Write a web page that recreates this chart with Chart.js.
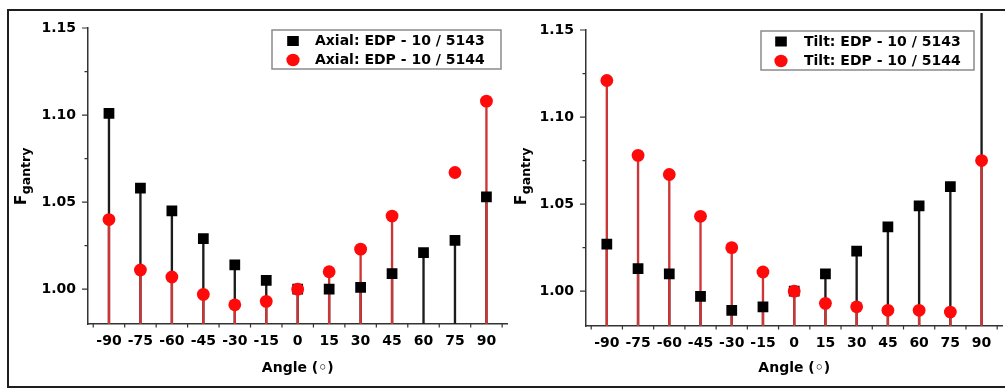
<!DOCTYPE html>
<html><head><meta charset="utf-8">
<script src="https://cdn.jsdelivr.net/npm/chart.js@4.4.0/dist/chart.umd.min.js"></script>
<style>
html,body{margin:0;padding:0;background:#fff;width:1005px;height:388px;overflow:hidden;position:relative;}
#frame{position:absolute;left:7px;top:9px;width:1010px;height:379px;box-sizing:border-box;border:2px solid #1e1e1e;}
#c1{position:absolute;left:0;top:0;}
#c2{position:absolute;left:500px;top:0;}
</style></head><body>
<div id="frame"></div>
<canvas id="c1" width="515" height="388"></canvas>
<canvas id="c2" width="510" height="388"></canvas>
<script>
// ---- data ----
const angles = [-90,-75,-60,-45,-30,-15,0,15,30,45,60,75,90];
const axial5143 = [1.101,1.058,1.045,1.029,1.014,1.005,1.000,1.000,1.001,1.009,1.021,1.028,1.053];
const axial5144 = [1.040,1.011,1.007,0.997,0.991,0.993,1.000,1.010,1.023,1.042,null,1.067,1.108];
const axial5144NoStem = [75];
const tilt5143 = [1.027,1.013,1.010,0.997,0.989,0.991,1.000,1.010,1.023,1.037,1.049,1.060,1.25];
const tilt5144 = [1.121,1.078,1.067,1.043,1.025,1.011,1.000,0.993,0.991,0.989,0.989,0.988,1.075];
const xTickValues = [-90,-75,-60,-45,-30,-15,0,15,30,45,60,75,90];
const yTickValues = [1.00,1.05,1.10,1.15];

const FONT = 'DejaVu Sans';

function pts(vals, skip){
  skip = skip || [];
  return angles.map((a,i)=>({x:a,y:vals[i]})).filter(p=>p.y!==null && skip.indexOf(p.x)<0);
}

const tickMarks = {
  id:'tickMarks',
  afterDraw(chart){
    const {ctx, scales:{x,y}, chartArea:a} = chart;
    ctx.save();
    ctx.strokeStyle='#333'; ctx.lineWidth=1.2;
    ctx.beginPath();
    yTickValues.forEach(v=>{const p=y.getPixelForValue(v); ctx.moveTo(a.left-6,p); ctx.lineTo(a.left,p);});
    const ys = yTickValues[1]-yTickValues[0];
    const ym = [yTickValues[0]-ys/2].concat(yTickValues.map(v=>v+ys/2));
    ym.forEach(v=>{ if(v>=y.min && v<=y.max){const p=y.getPixelForValue(v); ctx.moveTo(a.left-3.5,p); ctx.lineTo(a.left,p);} });
    const xs = xTickValues[1]-xTickValues[0];
    const xm = [xTickValues[0]-xs/2].concat(xTickValues.map(v=>v+xs/2));
    xm.forEach(v=>{ if(v>=x.min && v<=x.max){const p=x.getPixelForValue(v); ctx.moveTo(p,a.bottom); ctx.lineTo(p,a.bottom+3.5);} });
    ctx.stroke();
    ctx.restore();
  }
};

const boxLegend = {
  id:'boxLegend',
  afterDatasetsDraw(chart, args, o){
    const {ctx, chartArea:a} = chart;
    const bx=a.left+o.x, by=a.top+o.y;
    ctx.save();
    ctx.fillStyle='#fff'; ctx.fillRect(bx,by,o.w,o.h);
    ctx.strokeStyle='#8a8a8a'; ctx.lineWidth=1.5; ctx.strokeRect(bx,by,o.w,o.h);
    const items = chart.data.datasets.filter(d=>d.type!=='bar').slice().reverse();
    items.forEach((d,i)=>{
      const cy = by + o.rows[i];
      const cx = bx + o.markX;
      ctx.fillStyle = d.backgroundColor;
      if(d.pointStyle==='rect'){ ctx.fillRect(cx-5.8, cy-5, 11.6, 10); }
      else { ctx.beginPath(); ctx.ellipse(cx, cy, 6.6, 6.2, 0, 0, Math.PI*2); ctx.fill(); }
      ctx.fillStyle='#000'; ctx.font='bold 14px "'+FONT+'"'; ctx.textBaseline='middle'; ctx.textAlign='left';
      ctx.fillText(d.label, bx+o.textX, cy+0.5);
    });
    ctx.restore();
  }
};

const yTitle = {
  id:'yTitle',
  afterDraw(chart, args, o){
    const ctx = chart.ctx;
    ctx.save();
    ctx.translate(o.x, o.y);
    ctx.rotate(-Math.PI/2);
    ctx.fillStyle='#000'; ctx.textBaseline='alphabetic'; ctx.textAlign='left';
    ctx.font='bold 15px "'+FONT+'"';
    ctx.fillText('F',0,0);
    const w = ctx.measureText('F').width;
    ctx.font='bold 12.5px "'+FONT+'"';
    ctx.fillText('gantry', w+0.5, 4.5);
    ctx.restore();
  }
};

function makeChart(id, cfg){
  return new Chart(document.getElementById(id), {
    type:'scatter',
    data:{datasets:[
      {label:cfg.redLabel, data:pts(cfg.red), pointStyle:'circle', pointRadius:6.4, pointHoverRadius:6.4, backgroundColor:'#ff0a0a', borderWidth:0, order:0},
      {label:cfg.blackLabel, data:pts(cfg.black), pointStyle:'rect', pointRadius:7.6, pointHoverRadius:7.6, backgroundColor:'#000000', borderWidth:0, order:1},
      {type:'bar', label:cfg.redLabel+' stem', data:pts(cfg.red, cfg.redNoStem), backgroundColor:'#cc3636', barThickness:1.7, grouped:false, borderWidth:0, order:2},
      {type:'bar', label:cfg.blackLabel+' stem', data:pts(cfg.black), backgroundColor:'#1c1c1c', barThickness:1.7, grouped:false, borderWidth:0, order:3, clip:{left:0,top:17,right:0,bottom:0}}
    ]},
    options:{
      responsive:false, animation:false, events:[],
      layout:{padding:{left:0, top:cfg.top, right:cfg.right, bottom:0}},
      plugins:{legend:{display:false}, tooltip:{enabled:false},
        boxLegend:cfg.legend, yTitle:cfg.ytitle},
      scales:{
        x:{type:'linear', min:-100, max:100, offset:false,
          grid:{display:false, drawTicks:false, offset:false},
          border:{display:true, color:'#333', width:1.5},
          afterBuildTicks:s=>{ s.ticks = xTickValues.map(v=>({value:v})); },
          afterFit:s=>{ s.height = cfg.xh; },
          ticks:{color:'#000', font:{family:FONT, weight:'bold', size:14}, padding:9, maxRotation:0, autoSkip:false, callback:v=>String(v)},
          title:{display:true, text:'Angle (◦)', color:'#000', font:{family:FONT, weight:'bold', size:14}, padding:{top:0,bottom:11.5}}
        },
        y:{type:'linear', min:0.98, max:1.15,
          grid:{display:false, drawTicks:false},
          border:{display:true, color:'#333', width:1.5},
          afterBuildTicks:s=>{ s.ticks = yTickValues.map(v=>({value:v})); },
          afterFit:s=>{ s.width = cfg.yw; },
          ticks:{color:'#000', font:{family:FONT, weight:'bold', size:14}, padding:12, callback:v=>Number(v).toFixed(2)}
        }
      }
    },
    plugins:[tickMarks, boxLegend, yTitle]
  });
}

makeChart('c1', {
  red:axial5144, black:axial5143, redNoStem:axial5144NoStem,
  redLabel:'Axial: EDP - 10 / 5144', blackLabel:'Axial: EDP - 10 / 5143',
  top:28, right:7, xh:64, yw:88,
  legend:{x:184, y:2, w:229, h:39, rows:[11,30], markX:21, textX:43},
  ytitle:{x:25.5, y:205}
});
makeChart('c2', {
  red:tilt5144, black:tilt5143, redNoStem:[],
  redLabel:'Tilt: EDP - 10 / 5144', blackLabel:'Tilt: EDP - 10 / 5143',
  top:30, right:4, xh:62, yw:86,
  legend:{x:175, y:1, w:213, h:39, rows:[10.5,30], markX:20, textX:43},
  ytitle:{x:25.5, y:205}
});
</script>
</body></html>
